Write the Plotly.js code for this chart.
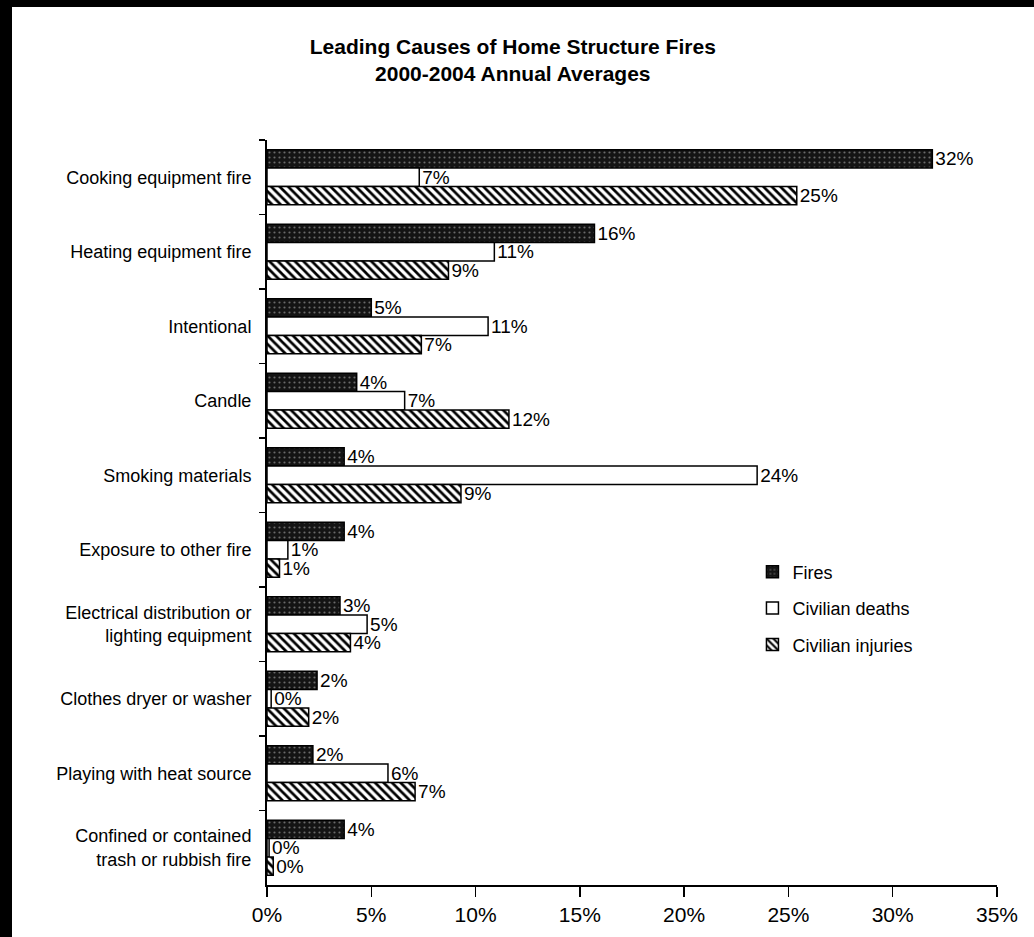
<!DOCTYPE html>
<html>
<head>
<meta charset="utf-8">
<script src="https://cdn.plot.ly/plotly-3.0.1.min.js"></script>
<style>
  html, body { margin: 0; padding: 0; background: #fff; }
  #chart { width: 1034px; height: 937px; box-sizing: border-box; border-left: 12px solid #000; border-top: 7px solid #000; }
</style>
</head>
<body>
<div id="chart"></div>
<script>
const causes = [
  "Cooking equipment fire",
  "Heating equipment fire",
  "Intentional",
  "Candle",
  "Smoking materials",
  "Exposure to other fire",
  "Electrical distribution or<br>lighting equipment",
  "Clothes dryer or washer",
  "Playing with heat source",
  "Confined or contained<br>trash or rubbish fire"
];

// shares in percent
const fires    = [31.9, 15.7, 5.0, 4.3, 3.7, 3.7, 3.5, 2.4, 2.2, 3.7];
const deaths   = [7.3, 10.9, 10.6, 6.6, 23.5, 1.0, 4.8, 0.2, 5.8, 0.1];
const injuries = [25.4, 8.7, 7.4, 11.6, 9.3, 0.6, 4.0, 2.0, 7.1, 0.3];

// printed labels
const firesText    = ["32%", "16%", "5%", "4%", "4%", "4%", "3%", "2%", "2%", "4%"];
const deathsText   = ["7%", "11%", "11%", "7%", "24%", "1%", "5%", "0%", "6%", "0%"];
const injuriesText = ["25%", "9%", "7%", "12%", "9%", "1%", "4%", "2%", "7%", "0%"];

const xTicks = [0, 5, 10, 15, 20, 25, 30, 35];
const xTickText = ["0%", "5%", "10%", "15%", "20%", "25%", "30%", "35%"];

const FONT = "Liberation Sans, Arial, sans-serif";
const labelFont = { family: FONT, size: 19, color: "#000" };

function barTrace(name, x, text, marker) {
  return {
    type: "bar",
    orientation: "h",
    name: name,
    legendgroup: name,
    y: causes,
    x: x,
    text: text,
    textposition: "outside",
    constraintext: "none",
    cliponaxis: false,
    textfont: labelFont,
    marker: marker,
    hoverinfo: "name+x"
  };
}

const traces = [
  barTrace("Fires", fires, firesText, {
    color: "#141414",
    line: { color: "#000", width: 1.5 },
    pattern: { shape: ".", fgcolor: "#6a6a6a", bgcolor: "#141414", size: 5, solidity: 0.15 }
  }),
  barTrace("Civilian deaths", deaths, deathsText, {
    color: "#fff",
    line: { color: "#000", width: 1.5 }
  }),
  barTrace("Civilian injuries", injuries, injuriesText, {
    color: "#fff",
    line: { color: "#000", width: 1.5 },
    pattern: { shape: "\\", fgcolor: "#000", bgcolor: "#fff", size: 6, solidity: 0.45 }
  })
];

const layout = {
  width: 1022,
  height: 930,
  paper_bgcolor: "#fff",
  plot_bgcolor: "#fff",
  margin: { l: 255, r: 37, t: 133, b: 52 },
  barmode: "group",
  bargap: 0.26,
  bargroupgap: 0,
  font: { family: FONT, size: 18, color: "#000" },
  title: {
    text: "<b>Leading Causes of Home Structure Fires<br>2000-2004 Annual Averages</b>",
    x: 0.49,
    xanchor: "center",
    y: 0.95,
    yanchor: "top",
    font: { family: FONT, size: 21, color: "#000" }
  },
  xaxis: {
    range: [0, 35],
    tickvals: xTicks,
    ticktext: xTickText,
    showgrid: false,
    zeroline: false,
    showline: true,
    linecolor: "#000",
    linewidth: 2,
    ticks: "outside",
    ticklen: 10,
    tickwidth: 1.5,
    tickcolor: "#000",
    tickfont: { family: FONT, size: 21, color: "#000" }
  },
  yaxis: {
    autorange: "reversed",
    showgrid: false,
    zeroline: false,
    showline: true,
    linecolor: "#000",
    linewidth: 2,
    ticks: "outside",
    tickson: "boundaries",
    ticklen: 6,
    tickwidth: 1.5,
    tickcolor: "#000",
    ticklabelstandoff: 10,
    tickfont: { family: FONT, size: 18, color: "#000" }
  },
  legend: {
    x: 0.665,
    y: 0.445,
    xanchor: "left",
    yanchor: "top",
    bgcolor: "rgba(0,0,0,0)",
    font: { family: FONT, size: 18, color: "#000" },
    itemwidth: 30,
    tracegroupgap: 10
  },
  showlegend: true
};

Plotly.newPlot("chart", traces, layout, { displayModeBar: false, staticPlot: true });
</script>
</body>
</html>
